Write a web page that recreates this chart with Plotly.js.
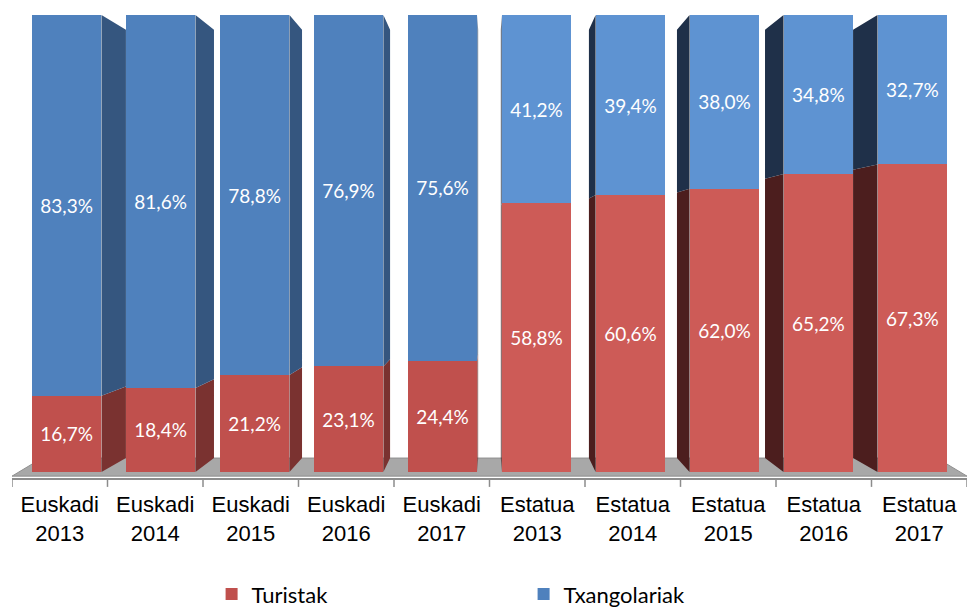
<!DOCTYPE html>
<html>
<head>
<meta charset="utf-8">
<script src="https://cdn.plot.ly/plotly-3.0.1.min.js"></script>
<style>html,body{margin:0;padding:0;background:#fff;}#chart{width:968px;height:607px;}</style>
</head>
<body>
<div id="chart"></div>
<script>
// ---- data ----
const categories = ['Euskadi 2013','Euskadi 2014','Euskadi 2015','Euskadi 2016','Euskadi 2017',
                    'Estatua 2013','Estatua 2014','Estatua 2015','Estatua 2016','Estatua 2017'];
const turistak     = [16.7, 18.4, 21.2, 23.1, 24.4, 58.8, 60.6, 62.0, 65.2, 67.3];
const txangolariak = [83.3, 81.6, 78.8, 76.9, 75.6, 41.2, 39.4, 38.0, 34.8, 32.7];
const seriesNames  = ['Turistak', 'Txangolariak'];

// ---- 3D look helpers (perspective toward the chart centre) ----
const N = categories.length;
const VX = (N - 1) / 2, VY = 48.5, S = 0.937, FRONT = 0.984, HALF = 0.365;
const idx = categories.map((_, i) => i);
const xFront = idx.map(i => VX + FRONT * (i - VX));
function P(x, y) { return [VX + S * (x - VX), VY + S * (y - VY)]; }

const isEusk = categories.map(c => c.startsWith('Euskadi'));
const redFront  = idx.map(i => isEusk[i] ? '#c0504d' : '#cd5b57');
const blueFront = idx.map(i => isEusk[i] ? '#4f81bd' : '#5e93d2');

function sidePolys(pickRight) {
  const red = {x: [], y: []}, blue = {x: [], y: []};
  idx.forEach(i => {
    const right = xFront[i] < VX;
    if (right !== pickRight) return;
    const e = right ? xFront[i] + HALF : xFront[i] - HALF;
    const segs = [[red, 0, turistak[i]], [blue, turistak[i], turistak[i] + txangolariak[i]]];
    segs.forEach(([t, y0, y1]) => {
      const a = P(e, y1), b = P(e, y0);
      t.x.push(e, e, a[0], b[0], null);
      t.y.push(y0, y1, a[1], b[1], null);
    });
  });
  return {red, blue};
}
const sR = sidePolys(true), sL = sidePolys(false);
function sideTrace(d, color) {
  return {type: 'scatter', mode: 'lines', x: d.x, y: d.y, fill: 'toself', fillcolor: color,
          line: {width: 0, color: color}, hoverinfo: 'skip', showlegend: false, connectgaps: false};
}

const labelFont = {family: 'Lato, "Open Sans", sans-serif', size: 19, color: '#ffffff'};

const traces = [
  sideTrace(sR.red, '#7a3230'), sideTrace(sR.blue, '#35567f'),
  sideTrace(sL.red, '#4c1e1e'), sideTrace(sL.blue, '#1f3049'),
  {type: 'bar', name: seriesNames[0], x: xFront, y: turistak, width: HALF * 2,
   marker: {color: redFront, line: {width: 0}},
   texttemplate: '%{y:.1f}%', textposition: 'inside', insidetextanchor: 'middle',
   textangle: 0, constraintext: 'none', insidetextfont: labelFont},
  {type: 'bar', name: seriesNames[1], x: xFront, y: txangolariak, width: HALF * 2,
   marker: {color: blueFront, line: {width: 0}},
   texttemplate: '%{y:.1f}%', textposition: 'inside', insidetextanchor: 'middle',
   textangle: 0, constraintext: 'none', insidetextfont: labelFont}
];

// floor and tick marks (decoration)
const fl = P(-0.5, 0), fr = P(N - 0.5, 0);
const shapes = [{
  type: 'path', xref: 'x', yref: 'y', layer: 'below',
  path: `M -0.5 -0.9 L ${N - 0.5} -0.9 L ${fr[0]} ${fr[1]} L ${fl[0]} ${fl[1]} Z`,
  fillcolor: '#a8a8a8', line: {color: '#8e8e8e', width: 1}
}];
for (let k = 0; k <= N; k++) {
  shapes.push({type: 'line', xref: 'x', yref: 'paper', x0: k - 0.5, x1: k - 0.5, y0: 0, y1: -0.019,
               line: {color: '#8c8c8c', width: 1.5}});
}

const layout = {
  width: 968, height: 607,
  margin: {l: 12, r: 1, t: 10, b: 129},
  paper_bgcolor: '#ffffff', plot_bgcolor: 'rgba(0,0,0,0)',
  barmode: 'stack', separators: ',.',
  showlegend: true,
  legend: {orientation: 'h', xref: 'paper', x: 0.209, xanchor: 'left',
           yref: 'container', y: 0.021, yanchor: 'middle',
           entrywidth: 267, traceorder: 'normal',
           font: {family: 'Lato, "Open Sans", sans-serif', size: 22, color: '#000000'}},
  xaxis: {range: [-0.5, N - 0.5], tickvals: idx, ticktext: categories.map(c => c.replace(' ', '<br>')),
          ticks: '', showgrid: false, zeroline: false, showline: true, linecolor: '#8c8c8c', linewidth: 1.5,
          tickfont: {family: '"Liberation Sans", Arial, sans-serif', size: 22, color: '#000000'},
          ticklabelstandoff: 6, fixedrange: true},
  yaxis: {range: [-1.31, 101.09], showgrid: false, zeroline: false, showticklabels: false,
          showline: false, ticks: '', fixedrange: true},
  shapes: shapes
};

Plotly.newPlot('chart', traces, layout, {displayModeBar: false, staticPlot: true});
</script>
</body>
</html>
